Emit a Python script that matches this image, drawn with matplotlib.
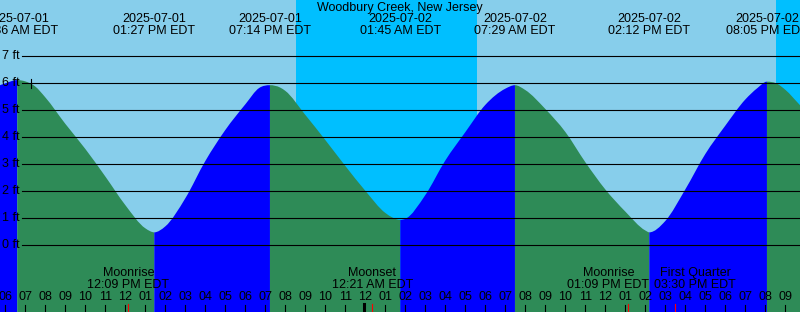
import matplotlib
matplotlib.use("Agg")
import matplotlib.pyplot as plt
from matplotlib.path import Path
from matplotlib.patches import PathPatch

plt.rcParams['font.family'] = ['Liberation Sans', 'DejaVu Sans']
FS = 9

# time is in hours since 2025-07-01 00:00 EDT
tide_time = [5.735, 6.0, 6.6, 7.0, 7.5, 8.0, 9.0, 10.0, 11.0, 12.0, 13.0, 13.45,
             14.0, 15.0, 16.0, 17.0, 18.0, 18.7, 19.233, 19.75, 20.0, 21.0, 22.0,
             23.0, 24.0, 25.0, 25.75, 26.0, 27.0, 28.0, 29.0, 30.0, 31.0, 31.483,
             32.0, 33.0, 34.0, 35.0, 36.0, 37.0, 38.0, 38.2, 39.0, 40.0, 41.0,
             42.0, 43.0, 43.6, 44.083, 44.6, 45.0, 45.735]
tide_ft = [5.93, 6.00, 6.12, 6.07, 5.88, 5.48, 4.50, 3.57, 2.55, 1.49, 0.63, 0.48,
           0.70, 1.74, 3.12, 4.27, 5.22, 5.83, 5.93, 5.84, 5.72, 4.83, 3.90,
           2.94, 2.02, 1.20, 0.94, 0.98, 1.86, 3.14, 4.19, 5.20, 5.80, 5.93,
           5.75, 5.05, 4.20, 3.08, 2.07, 1.25, 0.55, 0.48, 0.90, 2.07, 3.38,
           4.43, 5.40, 5.82, 6.06, 5.98, 5.76, 5.19]

# high / low tide events
extreme_time = [6.6, 13.45, 19.233, 25.75, 31.483, 38.2, 44.083]
extreme_date = ['2025-07-01', '2025-07-01', '2025-07-01', '2025-07-02',
                '2025-07-02', '2025-07-02', '2025-07-02']
extreme_clock = ['06:36 AM EDT', '01:27 PM EDT', '07:14 PM EDT', '01:45 AM EDT',
                 '07:29 AM EDT', '02:12 PM EDT', '08:05 PM EDT']

# moon events
moon_time = [12.15, 24.35, 37.15, 39.5]
moon_name = ['Moonrise', 'Moonset', 'Moonrise', 'First Quarter']
moon_clock = ['12:09 PM EDT', '12:21 AM EDT', '01:09 PM EDT', '03:30 PM EDT']
moon_label_shift = [0, 0, -1.0, 1.0]   # labels pushed apart where they collide

# night (sunset -> sunrise)
night_start = [20.53, 44.53]
night_end = [29.58, 46.0]

hour_ticks = list(range(6, 46))
hour_labels = ['06', '07', '08', '09', '10', '11', '12', '01', '02', '03', '04', '05',
               '06', '07', '08', '09', '10', '11', '12', '01', '02', '03', '04', '05',
               '06', '07', '08', '09', '10', '11', '12', '01', '02', '03', '04', '05',
               '06', '07', '08', '09']
midnight = 24
ft_levels = [0, 1, 2, 3, 4, 5, 6, 7]
mark_time, mark_ft = 7.27, 6

W, H = 800, 312
BOTTOM = -3


def ypix(p):
    return 1 - p / H


def xpix(p):
    return p / W


def slopes(t, y):
    # slope at each point: flat at turning points, parabola fit elsewhere
    m = []
    for i in range(len(t)):
        if i == 0:
            m.append((y[1] - y[0]) / (t[1] - t[0]))
        elif i == len(t) - 1:
            m.append((y[-1] - y[-2]) / (t[-1] - t[-2]))
        else:
            h0, h1 = t[i] - t[i - 1], t[i + 1] - t[i]
            d0, d1 = (y[i] - y[i - 1]) / h0, (y[i + 1] - y[i]) / h1
            m.append(0.0 if d0 * d1 <= 0 else (d0 * h1 + d1 * h0) / (h0 + h1))
    return m


fig = plt.figure(figsize=(8, 3.12), dpi=100)
fig.patch.set_facecolor('#87CEEB')
ax = fig.add_axes([0, 0, 1, 1])
ax.set_axis_off()
ax.set_xlim(5.735, 45.735)
ax.set_ylim(-2.47, 9.085)

for s, e in zip(night_start, night_end):
    ax.axvspan(s, e, color='#00BFFF', lw=0, zorder=0)

# tide area: blue while rising, green while falling
m = slopes(tide_time, tide_ft)
breaks = [0] + [tide_time.index(t) for t in extreme_time] + [len(tide_time) - 1]
for i0, i1 in zip(breaks[:-1], breaks[1:]):
    col = '#0000FF' if tide_ft[i1] > tide_ft[i0] else '#2E8B57'
    verts = [(tide_time[i0], BOTTOM), (tide_time[i0], tide_ft[i0])]
    codes = [Path.MOVETO, Path.LINETO]
    for k in range(i0, i1):
        h = tide_time[k + 1] - tide_time[k]
        verts += [(tide_time[k] + h / 3, tide_ft[k] + m[k] * h / 3),
                  (tide_time[k + 1] - h / 3, tide_ft[k + 1] - m[k + 1] * h / 3),
                  (tide_time[k + 1], tide_ft[k + 1])]
        codes += [Path.CURVE4] * 3
    verts += [(tide_time[i1], BOTTOM), (tide_time[i0], BOTTOM)]
    codes += [Path.LINETO, Path.CLOSEPOLY]
    ax.add_patch(PathPatch(Path(verts, codes), facecolor=col, lw=0, zorder=1))

for ft in ft_levels:
    ax.axhline(ft, xmin=xpix(21.7), color='black', lw=0.8, zorder=2)
    ax.text(xpix(19.5), ft, f'{ft} ft', transform=ax.get_yaxis_transform(),
            ha='right', va='center', fontsize=FS, zorder=3)
ax.plot([mark_time, mark_time], [mark_ft - 0.16, mark_ft + 0.16],
        color='black', lw=0.8, zorder=2)

tr = ax.get_xaxis_transform()
ax.text(0.5, ypix(7.5), 'Woodbury Creek, New Jersey', transform=ax.transAxes,
        ha='center', va='center', fontsize=FS)
for t, d, c in zip(extreme_time, extreme_date, extreme_clock):
    ax.text(t, ypix(19.5), d, transform=tr, ha='center', va='center', fontsize=FS)
    ax.text(t, ypix(31), c, transform=tr, ha='center', va='center', fontsize=FS)

for t, n, c, dx in zip(moon_time, moon_name, moon_clock, moon_label_shift):
    ax.text(t + dx, ypix(273), n, transform=tr, ha='center', va='center', fontsize=FS, zorder=3)
    ax.text(t + dx, ypix(285.5), c, transform=tr, ha='center', va='center', fontsize=FS, zorder=3)
    ax.axvline(t, ymin=0, ymax=8 / H, color='red', lw=0.8, zorder=3)

for t, lab in zip(hour_ticks, hour_labels):
    ax.text(t, ypix(297.5), lab, transform=tr, ha='center', va='center', fontsize=FS, zorder=3)
    if t == midnight:
        ax.axvline(t - 0.05, ymin=0, ymax=8 / H, color='black', lw=2.2, zorder=3)
    else:
        ax.axvline(t, ymin=0, ymax=7 / H, color='black', lw=0.8, zorder=3)

fig.savefig('out.png', dpi=100, facecolor=fig.get_facecolor())
